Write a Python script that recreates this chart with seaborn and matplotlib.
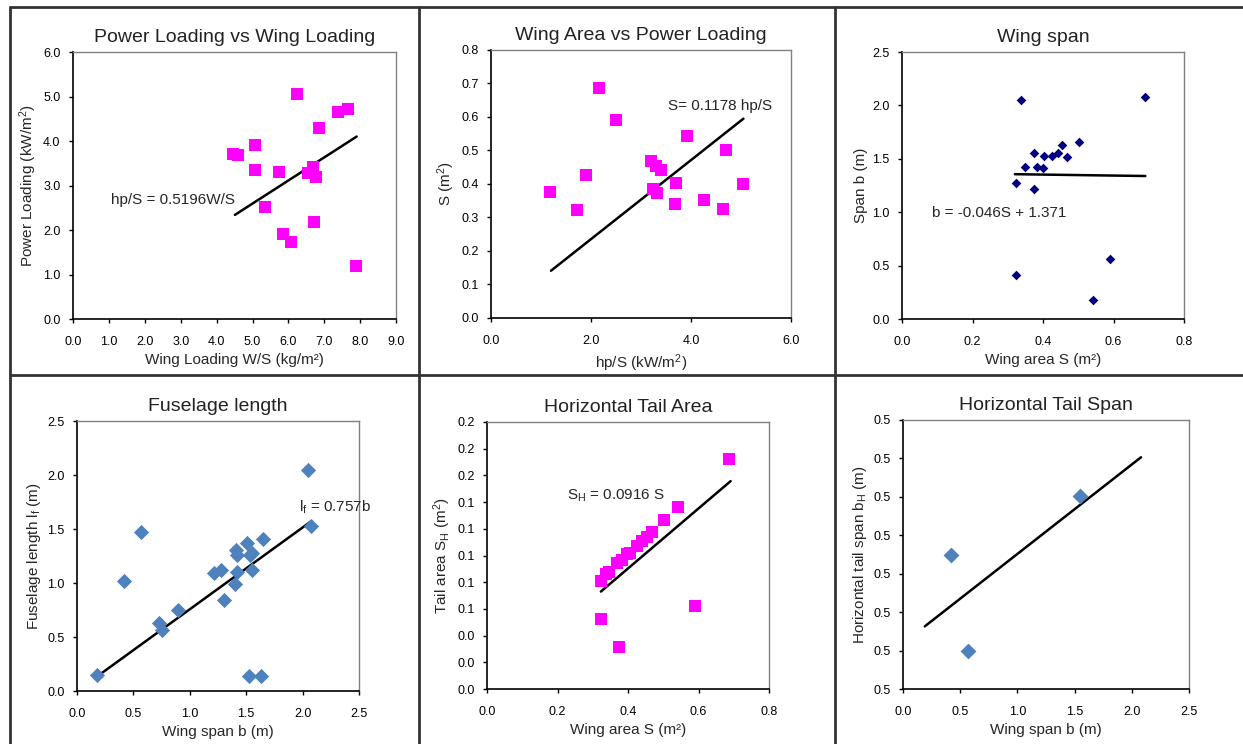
import numpy as np
import pandas as pd
import matplotlib.pyplot as plt
from matplotlib.lines import Line2D
from matplotlib.ticker import FormatStrFormatter
import seaborn as sns

# ---- data ----
# Power loading vs wing loading
ws_load = [4.46, 4.60, 5.08, 5.07, 5.74, 5.36, 6.23, 5.86, 6.07, 6.55, 6.69, 6.78, 6.72, 6.85, 7.39, 7.67, 7.88]
hp_load = [3.71, 3.69, 3.92, 3.35, 3.30, 2.51, 5.05, 1.90, 1.74, 3.29, 3.41, 3.20, 2.19, 4.29, 4.65, 4.72, 1.20]
fit1_x, fit1_y = [4.51, 7.90], [2.34, 4.10]

# Wing area vs power loading
hp_s = [1.18, 1.73, 1.90, 2.17, 2.51, 3.20, 3.30, 3.40, 3.24, 3.33, 3.71, 3.68, 3.92, 4.27, 4.64, 4.71, 5.05]
area_s = [0.375, 0.322, 0.426, 0.688, 0.591, 0.468, 0.454, 0.441, 0.385, 0.374, 0.403, 0.340, 0.543, 0.352, 0.325, 0.501, 0.401]
fit2_x, fit2_y = [1.20, 5.05], [0.141, 0.595]

# Wing span vs wing area
wa = [0.337, 0.690, 0.323, 0.349, 0.373, 0.375, 0.383, 0.401, 0.404, 0.425, 0.441, 0.455, 0.469, 0.503, 0.323, 0.543, 0.590]
span = [2.053, 2.081, 1.272, 1.422, 1.553, 1.219, 1.422, 1.413, 1.522, 1.528, 1.553, 1.625, 1.513, 1.653, 0.416, 0.178, 0.559]
fit3_x, fit3_y = [0.32, 0.69], [1.356, 1.339]

# Fuselage length vs wing span
fb = [0.18, 0.417, 0.570, 0.724, 0.754, 0.895, 1.215, 1.274, 1.300, 1.398, 1.407, 1.418, 1.418, 1.507,
      1.531, 1.551, 1.551, 1.649, 2.048, 2.077, 1.522, 1.628]
fl = [0.151, 1.019, 1.472, 0.633, 0.562, 0.747, 1.096, 1.123, 0.840, 0.994, 1.302, 1.256, 1.102, 1.373,
      1.256, 1.278, 1.123, 1.404, 2.049, 1.528, 0.139, 0.139]
fit4_x, fit4_y = [0.18, 2.07], [0.136, 1.567]

# Horizontal tail area vs wing area
ts = [0.323, 0.337, 0.347, 0.370, 0.382, 0.396, 0.406, 0.426, 0.439, 0.455, 0.467, 0.503, 0.542, 0.687, 0.323, 0.375, 0.590]
sh = [0.0812, 0.0862, 0.0879, 0.0941, 0.0966, 0.1009, 0.1016, 0.1071, 0.1108, 0.1141, 0.1173, 0.1265, 0.1360,
      0.1724, 0.0523, 0.0311, 0.0623]
fit5_x, fit5_y = [0.323, 0.691], [0.073, 0.1557]

# Horizontal tail span vs wing span
tb = [0.42, 0.57, 1.55]
bh = [0.4949, 0.4698, 0.5101]
fit6_x, fit6_y = [0.19, 2.08], [0.4763, 0.5203]

MAGENTA = "#FF00FF"
NAVY = "#000080"
STEEL = "#4F81BD"

sns.set_style("white")
plt.rcParams['font.family'] = ['Liberation Sans', 'DejaVu Sans']
plt.rcParams['mathtext.fontset'] = 'custom'
plt.rcParams['mathtext.rm'] = 'Liberation Sans'
plt.rcParams['mathtext.it'] = 'Liberation Sans'

fig = plt.figure(figsize=(12.43, 7.44), dpi=100)

def make_ax(rect, x, y, fx, fy, color, marker, size, title, xlab, ylab,
            xlim, xticks, xfmt, ylim, yticks, yfmt):
    ax = fig.add_axes(rect)
    df = pd.DataFrame({"x": x, "y": y})
    sns.scatterplot(data=df, x="x", y="y", ax=ax, color=color, marker=marker,
                    s=size, edgecolor=color, linewidth=0, zorder=3)
    sns.lineplot(x=fx, y=fy, ax=ax, color="black", linewidth=1.8, zorder=2)
    ax.set_xlim(*xlim)
    ax.set_ylim(*ylim)
    ax.set_xticks(xticks)
    ax.set_yticks(yticks)
    ax.xaxis.set_major_formatter(FormatStrFormatter(xfmt))
    ax.yaxis.set_major_formatter(FormatStrFormatter(yfmt))
    ax.tick_params(axis="both", direction="out", length=3, width=1, labelsize=9,
                   bottom=True, left=True, colors="black")
    ax.tick_params(axis="x", pad=9)
    ax.tick_params(axis="y", pad=6)
    ax.set_title(title, fontsize=14, pad=7, color="#222222")
    ax.set_xlabel(xlab, fontsize=11, labelpad=4)
    ax.set_ylabel(ylab, fontsize=11, labelpad=3)
    for side in ["top", "right"]:
        ax.spines[side].set_color("#808080")
        ax.spines[side].set_linewidth(1.0)
    for side in ["left", "bottom"]:
        ax.spines[side].set_color("black")
        ax.spines[side].set_linewidth(1.2)
    return ax

ax1 = make_ax([0.0587, 0.5712, 0.2600, 0.3589], ws_load, hp_load, fit1_x, fit1_y, MAGENTA, "s", 70,
              "Power Loading vs Wing Loading", "Wing Loading W/S (kg/m²)", "Power Loading (kW/m$^2$)",
              (0, 9), np.arange(0, 9.5, 1.0), "%.1f", (0, 6), np.arange(0, 6.5, 1.0), "%.1f")
ax1.text(1.07, 2.68, "hp/S = 0.5196W/S", fontsize=11, va="center")

ax2 = make_ax([0.3950, 0.5726, 0.2413, 0.3602], hp_s, area_s, fit2_x, fit2_y, MAGENTA, "s", 70,
              "Wing Area vs Power Loading", "hp/S (kW/m$^2$)", "S (m$^2$)",
              (0, 6), np.arange(0, 6.5, 2.0), "%.1f", (0, 0.8), np.arange(0, 0.85, 0.1), "%.1f")
ax2.text(3.55, 0.633, "S= 0.1178 hp/S", fontsize=11, va="center")

ax3 = make_ax([0.7257, 0.5712, 0.2269, 0.3589], wa, span, fit3_x, fit3_y, NAVY, "D", 24,
              "Wing span", "Wing area S (m²)", "Span b (m)",
              (0, 0.8), np.arange(0, 0.85, 0.2), "%.1f", (0, 2.5), np.arange(0, 2.55, 0.5), "%.1f")
ax3.text(0.085, 0.99, "b = -0.046S + 1.371", fontsize=11, va="center")

ax4 = make_ax([0.0619, 0.0712, 0.2269, 0.3629], fb, fl, fit4_x, fit4_y, STEEL, "D", 60,
              "Fuselage length", "Wing span b (m)", "Fuselage length l$_f$ (m)",
              (0, 2.5), np.arange(0, 2.55, 0.5), "%.1f", (0, 2.5), np.arange(0, 2.55, 0.5), "%.1f")
ax4.text(1.97, 1.70, "l$_f$ = 0.757b", fontsize=11, va="center")

ax5 = make_ax([0.3918, 0.0739, 0.2269, 0.3589], ts, sh, fit5_x, fit5_y, MAGENTA, "s", 70,
              "Horizontal Tail Area", "Wing area S (m²)", "Tail area S$_H$ (m$^2$)",
              (0, 0.8), np.arange(0, 0.85, 0.2), "%.1f", (0, 0.2), np.arange(0, 0.201, 0.02), "%.1f")
ax5.text(0.226, 0.145, "S$_H$ = 0.0916 S", fontsize=11, va="center")

ax6 = make_ax([0.7265, 0.0739, 0.2301, 0.3616], tb, bh, fit6_x, fit6_y, STEEL, "D", 65,
              "Horizontal Tail Span", "Wing span b (m)", "Horizontal tail span b$_H$ (m)",
              (0, 2.5), np.arange(0, 2.55, 0.5), "%.1f", (0.46, 0.53), np.arange(0.46, 0.5301, 0.01), "%.1f")

# panel frame lines
W, H = 1243.0, 744.0
frame = [((10, 10), (7, 744)), ((10, 1243), (7, 7)), ((419, 419), (7, 744)),
         ((835, 835), (7, 744)), ((10, 1243), (375, 375))]
for (xs, ys) in frame:
    fig.add_artist(Line2D([x / W for x in xs], [1 - y / H for y in ys],
                          transform=fig.transFigure, color="#333333", linewidth=2.0))

plt.savefig("out.png", dpi=100)
